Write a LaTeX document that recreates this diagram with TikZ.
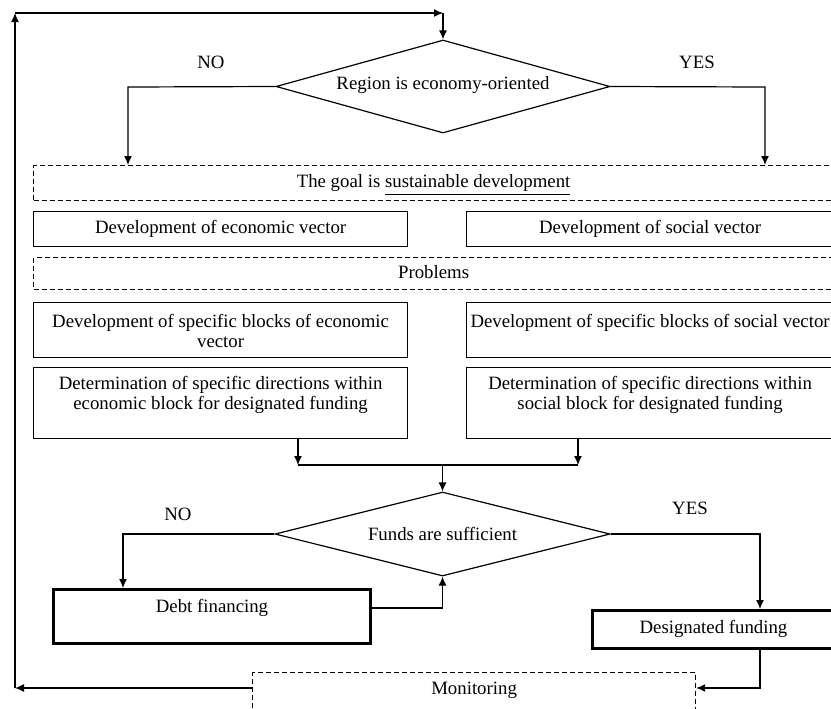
\documentclass[tikz,border=0pt]{standalone}
\usepackage{fontspec}
\setmainfont{Liberation Serif}
\usepackage{tikz}
\usetikzlibrary{arrows.meta,positioning,shapes.geometric}

\begin{document}
\begin{tikzpicture}[x=0.5pt,y=-0.5pt,
		every node/.style={font=\fontsize{9.4}{10}\selectfont},
		box/.style={draw,line width=0.6pt,anchor=north west,inner sep=0pt,align=center},
		dbox/.style={box,dash pattern=on 2.5pt off 1.5pt},
		tbox/.style={box,line width=1.5pt},
		decision/.style={draw,line width=0.6pt,diamond,inner sep=0pt,aspect=3.7},
		arr/.style={line width=0.6pt,-{Latex[length=4.5pt,width=4pt]}},
		ln/.style={line width=0.6pt}]
		\useasboundingbox (0,0) rectangle (831,708);

		\node[decision,minimum width=167pt,minimum height=46.5pt,text height=7.5pt,text depth=4.5pt] (region) at (443,86.5) {Region is economy-oriented};
		\node (no1) at (211,62) {NO};
		\node (yes1) at (697,62) {YES};

		\node[dbox,minimum width=400pt,text height=10.8pt,text depth=6.7pt] (goal) at (33,165) {The goal is \underline{sustainable development}};
		\node[box,minimum width=187pt,text height=10.8pt,text depth=6.7pt] (econ) at (33,211) {Development of economic vector};
		\node[box,minimum width=183.5pt,text height=10.8pt,text depth=6.7pt] (soc) at (466,211) {Development of social vector};
		\node[dbox,minimum width=400pt,text height=10.3pt,text depth=5.7pt] (probl) at (33,257) {Problems};
		\node[box,minimum width=187pt,text height=22.3pt,text depth=5.2pt] (blkecon) at (33,302) {Development of specific blocks of economic\\vector};
		\node[box,minimum width=183.5pt,text height=12.3pt,text depth=15.2pt] (blksoc) at (466,302) {Development of specific blocks of social vector};
		\node[box,minimum width=187pt,text height=20.8pt,text depth=14.7pt] (direcon) at (33,367) {Determination of specific directions within\\economic block for designated funding};
		\node[box,minimum width=183.5pt,text height=20.8pt,text depth=14.7pt] (dirsoc) at (466,367) {Determination of specific directions within\\social block for designated funding};

		\node[decision,minimum width=167.5pt,minimum height=42pt,aspect=4] (funds) at (442.5,534) {Funds are sufficient};
		\node (no2) at (178,514) {NO};
		\node (yes2) at (690,508) {YES};

		\node[tbox,minimum width=158.5pt,text height=11.3pt,text depth=15.7pt] (debt) at (52,588) {Debt financing};
		\node[tbox,minimum width=121pt,text height=11.3pt,text depth=7.7pt] (desig) at (591,609) {Designated funding};
		\node[dbox,minimum width=221.5pt,text height=10.8pt,text depth=19.2pt] (monit) at (252,672) {Monitoring};

		\coordinate (noturn1) at (128,87);
		\coordinate (yesturn1) at (765,87);
		\coordinate (mergeL) at (298,465);
		\coordinate (mergeR) at (578,465);
		\coordinate (noturn2) at (123,534);
		\coordinate (yesturn2) at (760,534);
		\coordinate (backturn) at (442.5,608);
		\coordinate (loopbot) at (15,688);
		\coordinate (looptop) at (15,13);

		\draw[arr] (region.west) -- (noturn1) -- (noturn1 |- goal.north);
		\draw[arr] (region.east) -- (yesturn1) -- (yesturn1 |- goal.north);

		\draw[arr] (mergeL |- direcon.south) -- (mergeL);
		\draw[arr] (mergeR |- dirsoc.south) -- (mergeR);
		\draw[ln] (mergeL) -- (mergeR);
		\draw[arr] (mergeL -| funds.north) -- (funds.north);

		\draw[arr] (funds.west) -- (noturn2) -- (noturn2 |- debt.north);
		\draw[arr] (backturn -| debt.east) -- (backturn) -- (funds.south);
		\draw[arr] (funds.east) -- (yesturn2) -- (yesturn2 |- desig.north);
		\draw[arr] (yesturn2 |- desig.south) -- (yesturn2 |- loopbot) -- (loopbot -| monit.east);

		\draw[arr] (loopbot -| monit.west) -- (loopbot);
		\draw[arr] (loopbot) -- (looptop);
		\draw[arr] (looptop) -- (looptop -| region.north);
		\draw[arr] (looptop -| region.north) -- (region.north);
	\end{tikzpicture}
\end{document}
